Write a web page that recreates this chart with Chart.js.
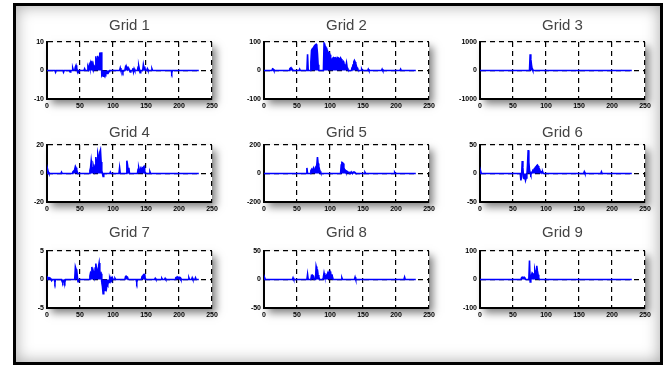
<!DOCTYPE html>
<html>
<head>
<meta charset="utf-8">
<script src="https://cdn.jsdelivr.net/npm/chart.js@4"></script>
<style>
  body { margin: 0; background: #fff; width: 670px; height: 366px; position: relative; overflow: hidden; }
  #frame { position: absolute; left: 13px; top: 3px; width: 644px; height: 356px; border: 3px solid #000; box-shadow: inset 0 0 16px rgba(0,0,0,0.35); }
  canvas { position: absolute; }
</style>
</head>
<body>
<div id="frame"></div>
<script>
// --- data: [x, value] pairs, zeros where the trace sits on the baseline
const titles = ["Grid 1", "Grid 2", "Grid 3", "Grid 4", "Grid 5", "Grid 6", "Grid 7", "Grid 8", "Grid 9"];
const yLimits = [10, 100, 1000, 20, 200, 50, 5, 50, 100];
const xTicks = [0, 50, 100, 150, 200, 250];

const grid1 = [[0,0],[12,0],[13,-0.6],[14,0],[24,0],[25,-0.6],[26,0],[34,0],[35,-0.5],[36,0],[38,0],[39,0.8],[40,0],[42,0],[43,1.2],[44,1.8],[45,0.8],[46,0],[47,-0.8],[48,0],[56,0],[57,0.6],[58,0],[61,0],[62,1.2],[63,0.5],[64,1.8],[65,0.8],[66,2.5],[67,1.5],[68,3.4],[69,1.0],[70,2.0],[71,0.5],[72,1.2],[73,0.4],[74,5.0],[75,2.0],[76,4.0],[77,5.2],[78,1.5],[79,4.5],[80,6.3],[81,3.0],[82,6.4],[83,-1.5],[84,-1.0],[85,-2.0],[86,-1.2],[87,-1.8],[88,-0.8],[89,-1.2],[90,-0.5],[91,-1.0],[92,-0.6],[93,-0.8],[94,-0.3],[95,0],[110,0],[111,0.9],[112,0],[114,0],[115,-0.6],[116,0],[118,0],[119,1.3],[120,0.8],[121,1.0],[122,0.4],[123,1.0],[124,0.6],[125,0],[126,-0.5],[127,0],[129,0],[130,0.8],[131,-0.5],[132,0.6],[133,0],[137,0],[138,1.2],[139,1.6],[140,0.5],[141,-0.8],[142,0],[145,0],[146,2.0],[147,0.8],[148,1.4],[149,0],[151,0],[152,0.6],[153,0],[158,0],[159,0.6],[160,0],[188,0],[189,-0.8],[190,0],[230,0]];
const grid2 = [[0,0],[12,0],[13,6],[14,5],[15,0],[38,0],[39,6],[40,8],[41,10],[42,6],[43,4],[44,0],[53,0],[54,5],[55,0],[65,0],[66,57],[67,0],[70,0],[71,30],[72,70],[73,75],[74,78],[75,80],[76,85],[77,88],[78,90],[79,92],[80,86],[81,60],[82,20],[83,0],[90,0],[91,95],[92,88],[93,85],[94,80],[95,75],[96,70],[97,65],[98,60],[99,62],[100,55],[101,40],[102,35],[103,40],[104,42],[105,45],[106,40],[107,44],[108,45],[109,42],[110,38],[111,45],[112,42],[113,44],[114,40],[115,38],[116,44],[117,40],[118,35],[119,30],[120,32],[121,25],[122,20],[123,18],[124,15],[125,27],[126,10],[127,5],[128,0],[132,0],[133,8],[134,12],[135,20],[136,30],[137,35],[138,30],[139,25],[140,15],[141,10],[142,5],[143,0],[147,0],[148,5],[149,0],[157,0],[158,5],[159,0],[178,0],[179,5],[180,0],[206,0],[207,5],[208,0],[230,0]];
const grid3 = [[0,0],[75,0],[76,570],[77,400],[78,200],[79,60],[80,0],[230,0]];
const grid4 = [[0,0],[1,2.8],[2,1],[3,0],[21,0],[22,1],[23,0],[38,0],[39,1],[40,1.5],[41,2],[42,3],[43,5],[44,4],[45,2.5],[46,1],[47,0],[64,0],[65,2],[66,4],[67,9],[68,5],[69,3.5],[70,2],[71,4],[72,2],[73,6],[74,11.5],[75,8],[76,5],[77,14],[78,12],[79,10],[80,15],[81,16.5],[82,8],[83,2],[84,0],[85,-2],[86,0],[95,0],[96,1],[97,0],[109,0],[110,4],[111,0],[120,0],[121,9],[122,6],[123,2],[124,4],[125,0],[137,0],[138,3],[139,4],[140,2],[141,1.5],[142,3],[143,2],[144,4],[145,3.5],[146,4.5],[147,5],[148,2],[149,0],[155,0],[156,1.2],[157,0],[230,0]];
const grid5 = [[0,0],[64,0],[65,39],[66,0],[70,0],[71,20],[72,28],[73,10],[74,30],[75,39],[76,10],[77,15],[78,40],[79,50],[80,60],[81,115],[82,70],[83,50],[84,30],[85,16],[86,5],[87,0],[116,0],[117,60],[118,78],[119,76],[120,70],[121,40],[122,28],[123,25],[124,12],[125,15],[126,8],[127,10],[128,6],[129,8],[130,4],[131,8],[132,3],[133,6],[134,0],[135,8],[136,10],[137,10],[138,6],[139,2],[140,0],[152,0],[153,8],[154,0],[197,0],[198,8],[199,0],[230,0]];
const grid6 = [[0,0],[1,4],[2,0],[61,0],[62,-12],[63,-5],[64,22],[65,10],[66,-8],[67,-9],[68,-4],[69,-12],[70,-8],[71,-3],[72,15],[73,41],[74,20],[75,6],[76,2],[77,-2],[78,0],[79,3],[80,5],[81,4],[82,8],[83,9],[84,11],[85,12],[86,14],[87,15],[88,13],[89,10],[90,8],[91,5],[92,3],[93,3],[94,2],[95,3],[96,0],[157,0],[158,3],[159,0],[183,0],[184,3],[185,0],[230,0]];
const grid7 = [[0,0],[1,0.4],[2,0.3],[3,0.2],[4,0.3],[5,0.2],[6,0],[7,-0.2],[8,0],[11,0],[12,-0.5],[13,0],[22,0],[23,-0.4],[24,-0.6],[25,-0.3],[26,-0.2],[27,-0.5],[28,0],[42,0],[43,2.2],[44,1.8],[45,1.6],[46,0.5],[47,-0.4],[48,0],[64,0],[65,0.6],[66,1.2],[67,1.0],[68,2.2],[69,1.5],[70,0.8],[71,1.0],[72,0.5],[73,2.0],[74,2.8],[75,1.8],[76,1.0],[77,1.6],[78,2.2],[79,2.9],[80,1.6],[81,0.8],[82,1.0],[83,-0.5],[84,-1.2],[85,-2.5],[86,-1.6],[87,-1.0],[88,-1.9],[89,-1.2],[90,-1.6],[91,-0.8],[92,-1.0],[93,-0.4],[94,-0.5],[95,0.2],[96,-0.2],[97,0.3],[98,0],[99,0.3],[100,0],[102,0],[103,0.2],[104,0],[118,0],[119,0.5],[120,0.4],[121,0.5],[122,0.4],[123,0],[135,0],[136,-0.5],[137,0],[143,0],[144,0.5],[145,0.6],[146,0.8],[147,0.9],[148,1.0],[149,0],[163,0],[164,0.2],[165,0],[173,0],[174,0.2],[175,0],[178,0],[179,0.2],[180,0],[194,0],[195,0.3],[196,0.4],[197,0.3],[198,0.4],[199,0.3],[200,0.4],[201,0.2],[202,0.3],[203,0],[214,0],[215,0.3],[216,0],[219,0],[220,0.3],[221,0],[224,0],[225,0.3],[226,0],[230,0]];
const grid8 = [[0,0],[1,3],[2,0],[43,0],[44,3],[45,0],[65,0],[66,9],[67,0],[71,0],[72,7],[73,6],[74,7],[75,6],[76,0],[78,0],[79,23],[80,18],[81,17],[82,8],[83,5],[84,0],[89,0],[90,4],[91,11.5],[92,6],[93,5],[94,7],[95,8],[96,10],[97,12.6],[98,9],[99,12],[100,14],[101,11],[102,6],[103,9],[104,3],[105,0],[117,0],[118,3],[119,0],[137,0],[138,4],[139,0],[212,0],[213,4],[214,0],[230,0]];
const grid9 = [[0,0],[62,0],[63,6],[64,8],[65,8],[66,7],[67,8],[68,6],[69,0],[74,0],[75,67],[76,-9],[77,5],[78,15],[79,23],[80,20],[81,10],[82,18],[83,35],[84,25],[85,30],[86,48],[87,30],[88,17],[89,5],[90,0],[230,0]];

const allGrids = [grid1, grid2, grid3, grid4, grid5, grid6, grid7, grid8, grid9];

// --- layout of the 3x3 panel
const colLeft = [47, 264, 480];
const rowTop = [42, 145, 251];
const plotW = 165, plotH = 57;
const titleGap = [16, 12, 18];
const tickFont = { family: "Liberation Sans", size: 7, weight: "bold" };

// white plot box with a soft drop shadow behind each axes
const shadowBox = {
  id: "shadowBox",
  beforeDraw(chart) {
    const { ctx, chartArea: a } = chart;
    ctx.save();
    ctx.shadowColor = "rgba(0,0,0,0.5)";
    ctx.shadowBlur = 8;
    ctx.shadowOffsetX = 4;
    ctx.shadowOffsetY = 5;
    ctx.fillStyle = "#fff";
    ctx.fillRect(a.left, a.top, a.right - a.left, a.bottom - a.top);
    ctx.restore();
  }
};

allGrids.forEach((pts, i) => {
  const c = i % 3, r = Math.floor(i / 3);
  const m = yLimits[i];
  const gap = titleGap[r];
  const cv = document.createElement("canvas");
  cv.width = plotW + 80;
  cv.height = plotH + 52;
  cv.style.left = (colLeft[c] - 40) + "px";
  cv.style.top = (rowTop[r] - 32) + "px";
  document.body.appendChild(cv);

  new Chart(cv, {
    type: "line",
    data: {
      datasets: [{
        data: pts.map(p => ({ x: p[0], y: p[1] })),
        borderColor: "#0000ff",
        backgroundColor: "#0000ff",
        borderWidth: 1.6,
        pointRadius: 0,
        fill: "origin",
        tension: 0
      }]
    },
    options: {
      responsive: false,
      animation: false,
      layout: { padding: 0 },
      plugins: {
        legend: { display: false },
        tooltip: { enabled: false },
        title: {
          display: true,
          text: titles[i],
          color: "#444",
          font: { family: "Liberation Sans", size: 15, weight: "normal" },
          padding: { top: 23 - gap, bottom: gap - 9 }
        }
      },
      scales: {
        x: {
          type: "linear",
          min: 0,
          max: 250,
          afterBuildTicks: s => { s.ticks = xTicks.map(v => ({ value: v })); },
          ticks: { color: "#000", font: tickFont, padding: 3, maxRotation: 0, autoSkip: false },
          grid: { color: "#000", lineWidth: 1.2, drawTicks: false },
          border: { color: "#000", width: 2, dash: [5, 4] },
          afterFit: s => { s.height = 20; }
        },
        y: {
          min: -m,
          max: m,
          afterBuildTicks: s => { s.ticks = [-m, 0, m].map(v => ({ value: v })); },
          ticks: { color: "#000", font: tickFont, padding: 3, callback: v => String(v) },
          grid: { color: "#000", lineWidth: 1.2, drawTicks: false },
          border: { color: "#000", width: 2, dash: [5, 4] },
          afterFit: s => { s.width = 40; }
        },
        // empty right-hand axis: keeps the plot box centred under the title and leaves room for the shadow
        yRight: {
          position: "right",
          min: -m,
          max: m,
          ticks: { display: false },
          grid: { display: false, drawOnChartArea: false },
          border: { display: false },
          afterFit: s => { s.width = 40; }
        }
      }
    },
    plugins: [shadowBox]
  });
});
</script>
</body>
</html>
